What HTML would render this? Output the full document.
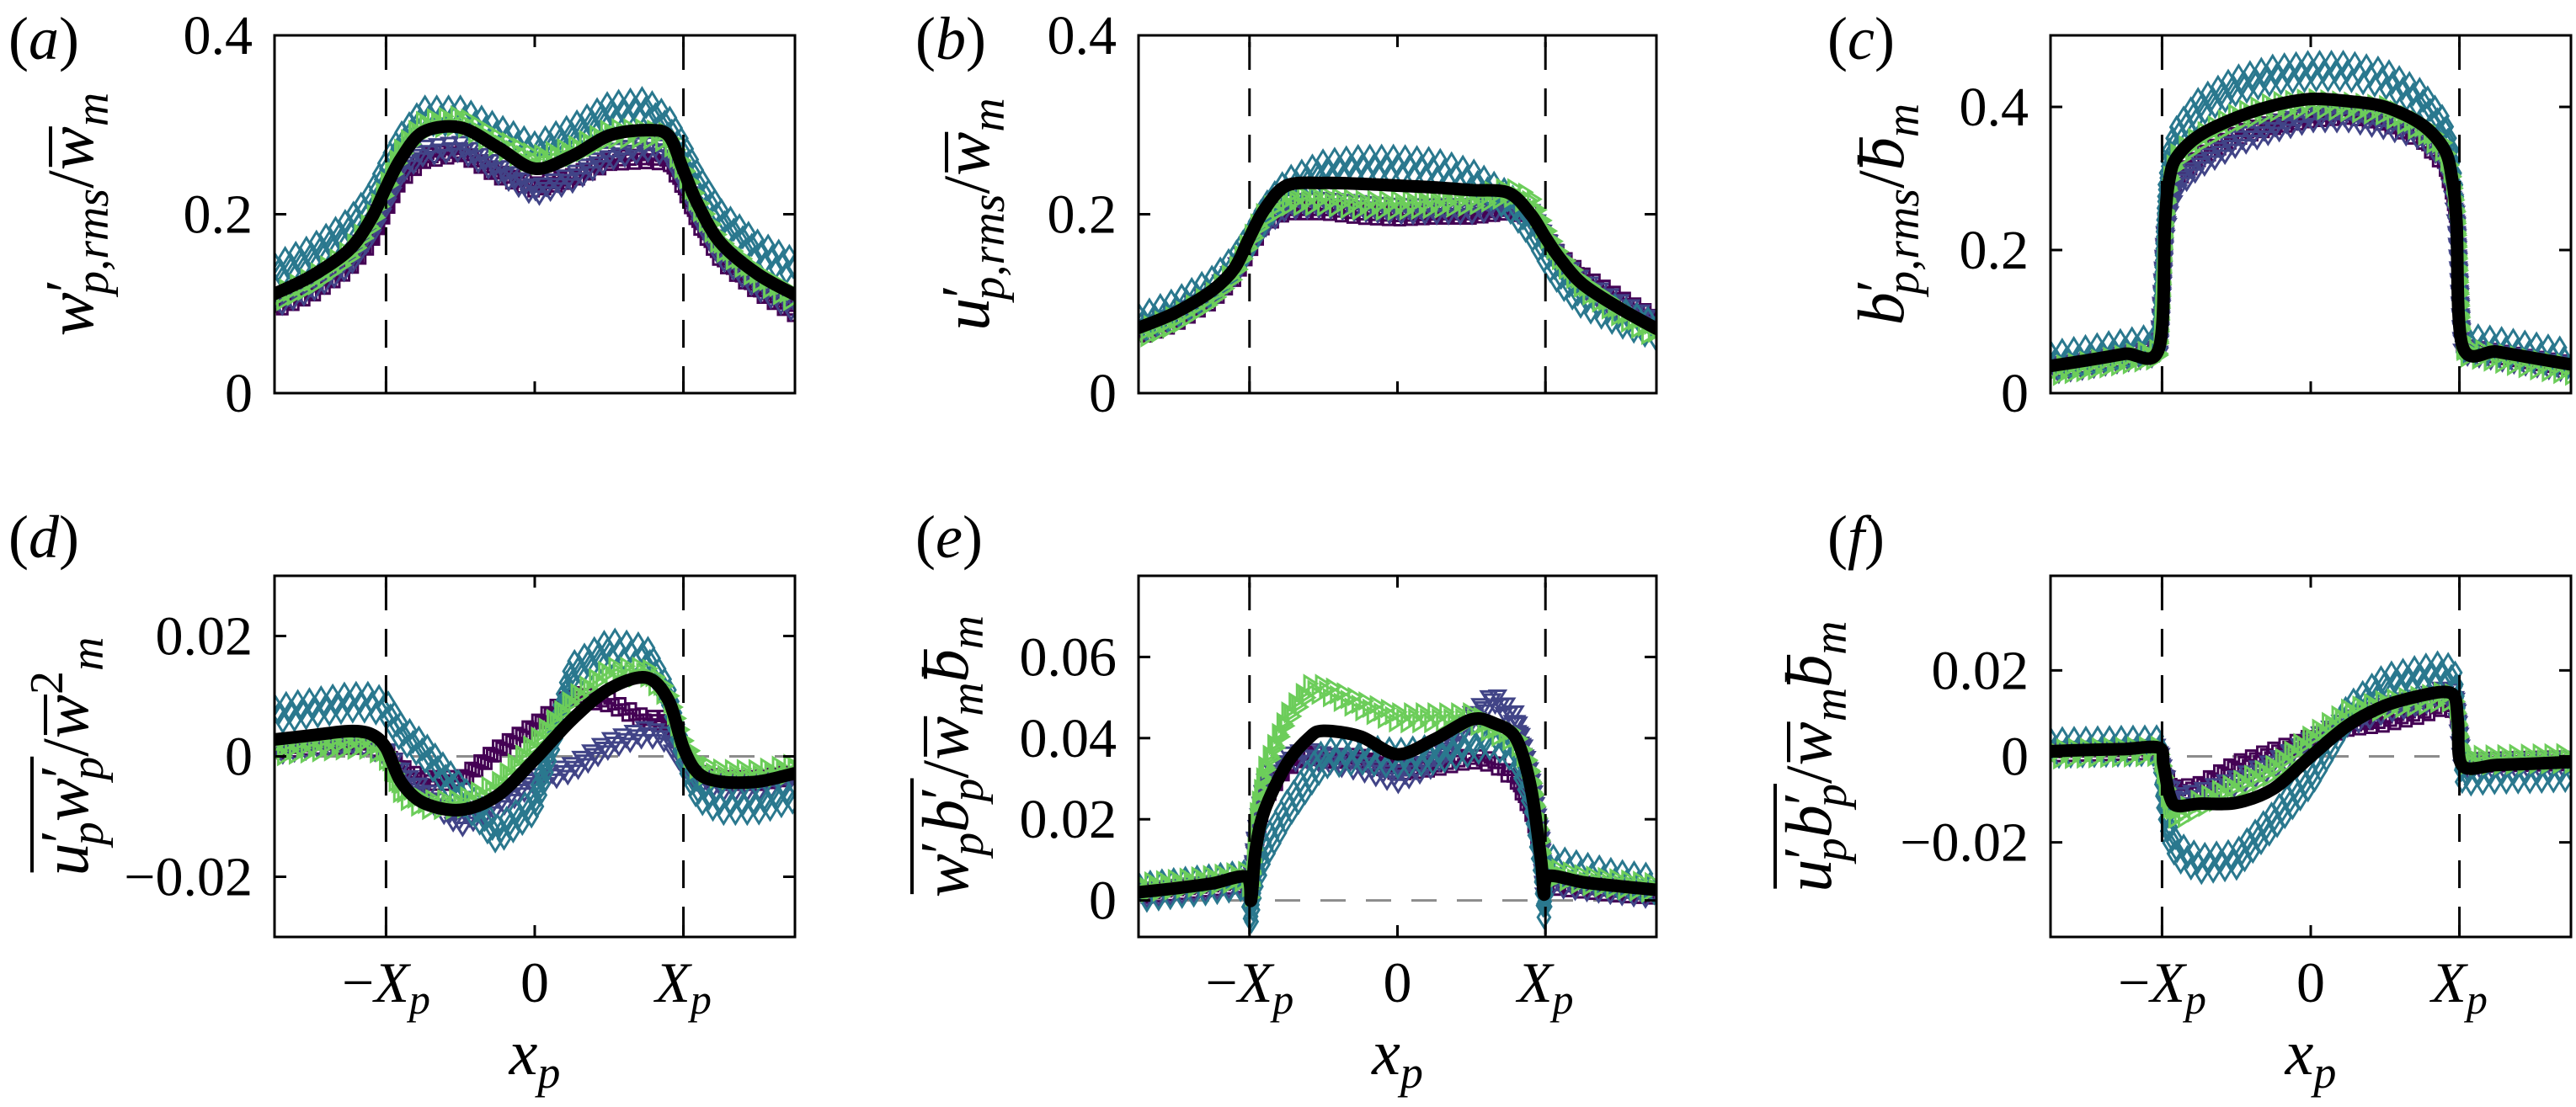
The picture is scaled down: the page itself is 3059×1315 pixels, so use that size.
<!DOCTYPE html>
<html><head><meta charset="utf-8"><style>
html,body{margin:0;padding:0;background:#fff;}
svg{display:block;}
text{font-family:"Liberation Serif","Times New Roman",Tinos,"Nimbus Roman","DejaVu Serif",serif;}
</style></head><body>
<svg id="fig" width="3059" height="1315" viewBox="0 0 3059 1315" xmlns="http://www.w3.org/2000/svg"></svg>
<script>
// ---------- data ----------
const gridX = [-1.75,-1.5,-1.25,-1.1,-1,-0.9,-0.75,-0.5,-0.25,0,0.25,0.5,0.75,0.9,1,1.1,1.25,1.5,1.75];
const aBlack  = [.111,.131,.16,.195,.23,.262,.292,.297,.275,.251,.265,.288,.294,.288,.249,.21,.168,.133,.110];
const aTeal   = [.135,.155,.185,.215,.25,.28,.31,.31,.29,.27,.29,.315,.32,.30,.27,.235,.195,.16,.14];
const aGreen  = [.105,.125,.155,.19,.23,.27,.3,.305,.28,.26,.27,.29,.29,.285,.25,.21,.165,.13,.105];
const aIndigo = [.1,.118,.145,.18,.215,.25,.27,.275,.25,.225,.24,.265,.275,.27,.24,.2,.155,.12,.095];
const aPurple = [.095,.112,.14,.17,.205,.24,.262,.27,.245,.23,.24,.26,.262,.26,.23,.19,.15,.115,.09];

const bBlack  = [.073,.09,.115,.14,.174,.205,.232,.235,.234,.232,.230,.227,.224,.2,.174,.15,.122,.095,.072];
const bTeal   = [.078,.095,.12,.145,.17,.2,.23,.25,.255,.255,.252,.24,.215,.185,.155,.13,.105,.085,.07];
const bGreen  = [.065,.082,.108,.135,.17,.2,.215,.215,.21,.21,.212,.215,.225,.215,.18,.15,.12,.09,.065];
const bIndigo = [.07,.087,.11,.135,.165,.19,.21,.212,.208,.205,.205,.205,.21,.2,.17,.145,.122,.098,.078];
const bPurple = [.065,.08,.105,.13,.16,.19,.205,.205,.2,.198,.2,.2,.205,.2,.175,.152,.13,.105,.082];

const cX      = [-1.75,-1.5,-1.25,-1.02,-0.98,-0.95,-0.9,-0.75,-0.5,-0.25,0,0.25,0.5,0.75,0.9,0.95,0.98,1.02,1.25,1.5,1.75];
const cBlack  = [.038,.046,.055,.063,.24,.30,.33,.36,.385,.402,.411,.408,.40,.375,.34,.30,.24,.066,.058,.049,.04];
const cTeal   = [.045,.053,.062,.07,.28,.33,.36,.40,.43,.445,.45,.45,.44,.41,.37,.33,.27,.07,.065,.057,.048];
const cGreen  = [.03,.038,.047,.055,.24,.30,.33,.355,.385,.40,.405,.40,.395,.37,.34,.30,.25,.058,.05,.04,.032];
const cIndigo = [.033,.04,.05,.058,.22,.26,.29,.32,.35,.37,.385,.385,.375,.36,.33,.29,.24,.06,.052,.043,.035];
const cPurple = [.035,.043,.052,.06,.23,.27,.3,.33,.36,.375,.385,.39,.38,.355,.32,.28,.24,.062,.055,.046,.038];

const dBlack  = [.0028,.0035,.0042,.0037,.0014,-.0042,-.0077,-.0089,-.0065,-.0005,.0061,.0112,.0131,.0093,.0014,-.0028,-.0042,-.0042,-.0028];
const dTeal   = [.007,.008,.009,.009,.008,.004,.001,-.006,-.013,-.008,.014,.018,.017,.01,0,-.006,-.008,-.008,-.006];
const dGreen  = [.0008,.0015,.002,.002,0,-.006,-.008,-.008,-.005,.002,.009,.014,.014,.01,.002,-.002,-.003,-.003,-.002];
const dIndigo = [.001,.002,.003,.002,.0005,-.003,-.006,-.011,-.008,-.004,-.002,.002,.004,.003,-.001,-.004,-.005,-.005,-.004];
const dPurple = [.001,.002,.002,.002,.001,-.002,-.004,-.004,.001,.005,.010,.009,.006,.006,0,-.003,-.004,-.004,-.003];

const eX      = [-1.75,-1.5,-1.25,-1.02,-0.99,-0.96,-0.9,-0.75,-0.6,-0.5,-0.25,0,0.25,0.5,0.65,0.8,0.9,0.97,0.99,1.02,1.25,1.5,1.75];
const eBlack  = [.002,.003,.0042,.0058,0,.012,.022,.0335,.040,.0418,.0404,.036,.0397,.0446,.0437,.04,.028,.010,.0015,.006,.0045,.0035,.0026];
const eTeal   = [.002,.003,.004,.005,-.004,.005,.012,.022,.03,.035,.036,.035,.036,.038,.04,.036,.025,.008,-.002,.009,.007,.005,.004];
const eGreen  = [.003,.004,.005,.006,.002,.02,.032,.045,.052,.052,.048,.045,.045,.045,.042,.04,.032,.015,.004,.007,.005,.004,.003];
const eIndigo = [.0015,.0025,.0035,.0045,.001,.015,.028,.035,.036,.035,.033,.03,.034,.045,.05,.045,.03,.015,.003,.0045,.0035,.0025,.0015];
const ePurple = [.0015,.0025,.0035,.0045,.001,.012,.025,.033,.036,.035,.035,.032,.033,.035,.034,.03,.022,.012,.003,.004,.003,.002,.0015];

const fX      = [-1.75,-1.5,-1.25,-1.02,-0.99,-0.95,-0.9,-0.75,-0.5,-0.25,0,0.25,0.5,0.75,0.9,0.97,0.99,1.02,1.25,1.5,1.75];
const fBlack  = [.0012,.0015,.0017,.002,-.002,-.009,-.0115,-.011,-.0108,-.0075,0,.0072,.0118,.0142,.015,.0137,.008,-.0022,-.002,-.0017,-.0013];
const fTeal   = [.002,.0022,.0024,.0025,-.01,-.018,-.022,-.025,-.024,-.015,-.005,.01,.017,.019,.02,.018,.01,-.0045,-.004,-.0038,-.0035];
const fGreen  = [.0005,.0008,.001,.0012,-.004,-.012,-.014,-.011,-.007,-.003,.004,.01,.012,.013,.014,.013,.008,-.001,-.0008,-.0006,-.0005];
const fIndigo = [.0008,.001,.0012,.0014,-.004,-.008,-.010,-.009,-.006,-.002,.003,.008,.011,.013,.015,.014,.008,-.002,-.0018,-.0016,-.0014];
const fPurple = [.001,.0012,.0014,.0016,-.003,-.006,-.008,-.007,-.002,.001,.004,.007,.008,.01,.012,.011,.007,-.0015,-.0013,-.0011,-.001];

const xTickVals = [-1,0,1];
const aYTicks = [0,0.2,0.4], aYLabels = ['0','0.2','0.4'];
const cYTicks = [0,0.2,0.4], cYLabels = ['0','0.2','0.4'];
const dYTicks = [-0.02,0,0.02], dYLabels = ['\u22120.02','0','0.02'];
const eYTicks = [0,0.02,0.04,0.06], eYLabels = ['0','0.02','0.04','0.06'];
const fYTicks = [-0.02,0,0.02], fYLabels = ['\u22120.02','0','0.02'];

// ---------- rendering ----------
const NS='http://www.w3.org/2000/svg';
const svg=document.getElementById('fig');
function el(tag,attrs,parent){const e=document.createElementNS(NS,tag);for(const k in attrs)e.setAttribute(k,attrs[k]);(parent||svg).appendChild(e);return e;}

const COLS=[{L:326,R:944},{L:1352,R:1967},{L:2435,R:3053}];
const ROWS=[{T:42,B:467},{T:684,B:1113}];
const SERIES_STYLE=[
 {name:'purple-squares',color:'#440154',shape:'sq',spread:5},
 {name:'indigo-triangles',color:'#414487',shape:'tdown',spread:7},
 {name:'teal-diamonds',color:'#2a788e',shape:'dia',spread:11},
 {name:'green-triangles',color:'#6ccd5a',shape:'tright',spread:7}
];

const panels=[
 {id:'a',col:0,row:0,x:gridX,ymin:0,ymax:0.4,yt:aYTicks,ytl:aYLabels,black:aBlack,s:[aPurple,aIndigo,aTeal,aGreen],zero:false,lx:86,
  label:[['w','n',0],['\u2032','sup',0],['p,rms','sub',0],['/','n',0],['w','n',1],['m','sub',0]]},
 {id:'b',col:1,row:0,x:gridX,ymin:0,ymax:0.4,yt:aYTicks,ytl:aYLabels,black:bBlack,s:[bPurple,bIndigo,bTeal,bGreen],zero:false,lx:1150,
  label:[['u','n',0],['\u2032','sup',0],['p,rms','sub',0],['/','n',0],['w','n',1],['m','sub',0]]},
 {id:'c',col:2,row:0,x:cX,ymin:0,ymax:0.5,yt:cYTicks,ytl:cYLabels,black:cBlack,s:[cPurple,cIndigo,cTeal,cGreen],zero:false,lx:2236,
  label:[['b','n',0],['\u2032','sup',0],['p,rms','sub',0],['/','n',0],['b','n',1],['m','sub',0]]},
 {id:'d',col:0,row:1,x:gridX,ymin:-0.03,ymax:0.03,yt:dYTicks,ytl:dYLabels,black:dBlack,s:[dPurple,dIndigo,dTeal,dGreen],zero:true,lx:80,
  label:[['u','n',1],['\u2032','sup',1],['p','sub',1],['w','n',1],['\u2032','sup',1],['p','sub',1],['/','n',0],['w','n',2],['2','sup',0],['m','sub',0]]},
 {id:'e',col:1,row:1,x:eX,ymin:-0.009,ymax:0.08,yt:eYTicks,ytl:eYLabels,black:eBlack,s:[ePurple,eIndigo,eTeal,eGreen],zero:true,lx:1125,
  label:[['w','n',1],['\u2032','sup',1],['p','sub',1],['b','n',1],['\u2032','sup',1],['p','sub',1],['/','n',0],['w','n',2],['m','sub',0],['b','n',3],['m','sub',0]]},
 {id:'f',col:2,row:1,x:fX,ymin:-0.042,ymax:0.042,yt:fYTicks,ytl:fYLabels,black:fBlack,s:[fPurple,fIndigo,fTeal,fGreen],zero:true,lx:2150,
  label:[['u','n',1],['\u2032','sup',1],['p','sub',1],['b','n',1],['\u2032','sup',1],['p','sub',1],['/','n',0],['w','n',2],['m','sub',0],['b','n',3],['m','sub',0]]}
];

function shapePath(sh,cx,cy){
  const r=9;
  if(sh==='sq')return `M${cx-6},${cy-6}h12v12h-12z`;
  if(sh==='tdown')return `M${cx-r},${cy-r*0.6}L${cx+r},${cy-r*0.6}L${cx},${cy+r}z`;
  if(sh==='dia')return `M${cx},${cy-r*1.3}L${cx+r*0.8},${cy}L${cx},${cy+r*1.3}L${cx-r*0.8},${cy}z`;
  return `M${cx-r*0.6},${cy-r}L${cx+r},${cy}L${cx-r*0.6},${cy+r}z`;
}
function smooth(pts){
  let d=`M${pts[0][0]},${pts[0][1]}`;
  for(let i=0;i<pts.length-1;i++){
    const p0=pts[Math.max(0,i-1)],p1=pts[i],p2=pts[i+1],p3=pts[Math.min(pts.length-1,i+2)];
    const t=0.16;
    d+=`C${p1[0]+(p2[0]-p0[0])*t},${p1[1]+(p2[1]-p0[1])*t} ${p2[0]-(p3[0]-p1[0])*t},${p2[1]-(p3[1]-p1[1])*t} ${p2[0]},${p2[1]}`;
  }
  return d;
}

panels.forEach(P=>{
  const {L,R}=COLS[P.col],{T,B}=ROWS[P.row];
  const sx=v=>L+(v+1.75)/3.5*(R-L);
  const sy=v=>B-(v-P.ymin)/(P.ymax-P.ymin)*(B-T);
  const g=el('g',{});
  
  
  const cp=el('clipPath',{id:'clip-'+P.id},g);
  el('rect',{x:L,y:T-8,width:R-L,height:B-T+16},cp);

  const lt=el('text',{x:P.col===0?10:(COLS[P.col].L-265),y:P.row===0?70:662,'font-size':72},g);
  
  
  lt.innerHTML=`(<tspan font-style="italic">${P.id}</tspan>)`;

  if(P.zero){
    const z=el('line',{x1:L,x2:R,y1:sy(0),y2:sy(0),stroke:'#8c8c8c','stroke-width':3,'stroke-dasharray':'30 24'},g);
    
    
  }
  const mg=el('g',{'clip-path':`url(#clip-${P.id})`},g);
  P.s.forEach((vals,si)=>{
    const st=SERIES_STYLE[si];
    const pts=P.x.map((xv,i)=>[sx(xv),sy(vals[i])]);
    let d='';
    [-1,0,1].forEach((k,ki)=>{
      let carry=ki*5;
      for(let i=0;i<pts.length-1;i++){
        const [x1,y1]=pts[i],[x2,y2]=pts[i+1];
        const len=Math.hypot(x2-x1,y2-y1);
        let s=carry;
        while(s<len){const t=s/len;d+=shapePath(st.shape,x1+(x2-x1)*t,y1+(y2-y1)*t+k*st.spread);s+=14;}
        carry=s-len;
      }
    });
    const p=el('path',{d:d,fill:'none',stroke:st.color,'stroke-width':3},mg);
    
    
  });
  const bp=el('path',{d:smooth(P.x.map((xv,i)=>[sx(xv),sy(P.black[i])])),fill:'none',stroke:'#000','stroke-width':15,'stroke-linejoin':'round','stroke-linecap':'round'},mg);
  
  

  [-1,1].forEach(v=>{
    const l=el('line',{x1:sx(v),x2:sx(v),y1:T,y2:B,stroke:'#000','stroke-width':3,'stroke-dasharray':'33 22','stroke-dashoffset':-8},g);
    
    
  });
  const bx=el('rect',{x:L,y:T,width:R-L,height:B-T,fill:'none',stroke:'#000','stroke-width':3},g);
  
  
  xTickVals.forEach(v=>{
    const t1=el('line',{x1:sx(v),x2:sx(v),y1:B,y2:B-14,stroke:'#000','stroke-width':3},g);
    
    
    const t2=el('line',{x1:sx(v),x2:sx(v),y1:T,y2:T+14,stroke:'#000','stroke-width':3},g);
    
    
  });
  P.yt.forEach((v,i)=>{
    const t1=el('line',{x1:L,x2:L+14,y1:sy(v),y2:sy(v),stroke:'#000','stroke-width':3},g);
    
    
    const t2=el('line',{x1:R,x2:R-14,y1:sy(v),y2:sy(v),stroke:'#000','stroke-width':3},g);
    
    
    const tl=el('text',{x:L-26,y:sy(v)+22,'font-size':66,'text-anchor':'end'},g);
    
    
    tl.textContent=P.ytl[i];
  });
  if(P.row===1){
    xTickVals.forEach((v,i)=>{
      const t=el('text',{x:sx(v),y:1190,'font-size':68,'text-anchor':'middle'},g);
      
      
      if(v===0)t.textContent='0';
      else t.innerHTML=`${v<0?'\u2212':''}<tspan font-style="italic">X</tspan><tspan font-style="italic" font-size="50" dy="14">p</tspan>`;
    });
    const xt=el('text',{x:sx(0),y:1276,'font-size':76,'text-anchor':'middle','font-style':'italic'},g);
    
    
    xt.innerHTML='x<tspan font-size="54" dy="16">p</tspan>';
  }
  const cy=(T+B)/2;
  const lg=el('g',{transform:`translate(${P.lx+24},${cy}) rotate(-90)`},g);
  const yl=el('text',{x:0,y:0,'font-size':78,'font-style':'italic','text-anchor':'middle'},lg);
  
  
  let html='',cur=0,prevSup=false;
  const charGroups=[];
  P.label.forEach(([t,k,grp])=>{
    let target=0,size=78,dx=0;
    const prime=(t==='\u2032');
    if(k==='sup'){target=prime?-8:-30;size=prime?70:56;}
    if(k==='sub'){target=18;size=56;}
    if(k==='sub'&&prevSup)dx=-18;
    prevSup=(k==='sup'&&prime);
    const dy=target-cur;cur=target;
    const st=(t==='/'||t==='2'||prime)?' font-style="normal"':'';
    html+=`<tspan font-size="${size}" dy="${dy}"${dx?` dx="${dx}"`:''}${st}>${t}</tspan>`;
    for(const ch of t)charGroups.push({grp,k});
  });
  yl.innerHTML=html;
  try{
    const groups={};
    charGroups.forEach((c,i)=>{
      if(!c.grp)return;
      const e=yl.getExtentOfChar(i);
      const gr=groups[c.grp]||(groups[c.grp]={x1:1e9,x2:-1e9,sup:false});
      gr.x1=Math.min(gr.x1,e.x);gr.x2=Math.max(gr.x2,e.x+e.width);
      if(c.k==='sup')gr.sup=true;
    });
    Object.values(groups).forEach(gr=>{
      const y=gr.sup?-66:-50;
      const ol=el('line',{x1:gr.x1+4,x2:gr.x2,y1:y,y2:y,stroke:'#000','stroke-width':4},lg);
      
      
    });
  }catch(err){}
});
</script>
</body></html>
